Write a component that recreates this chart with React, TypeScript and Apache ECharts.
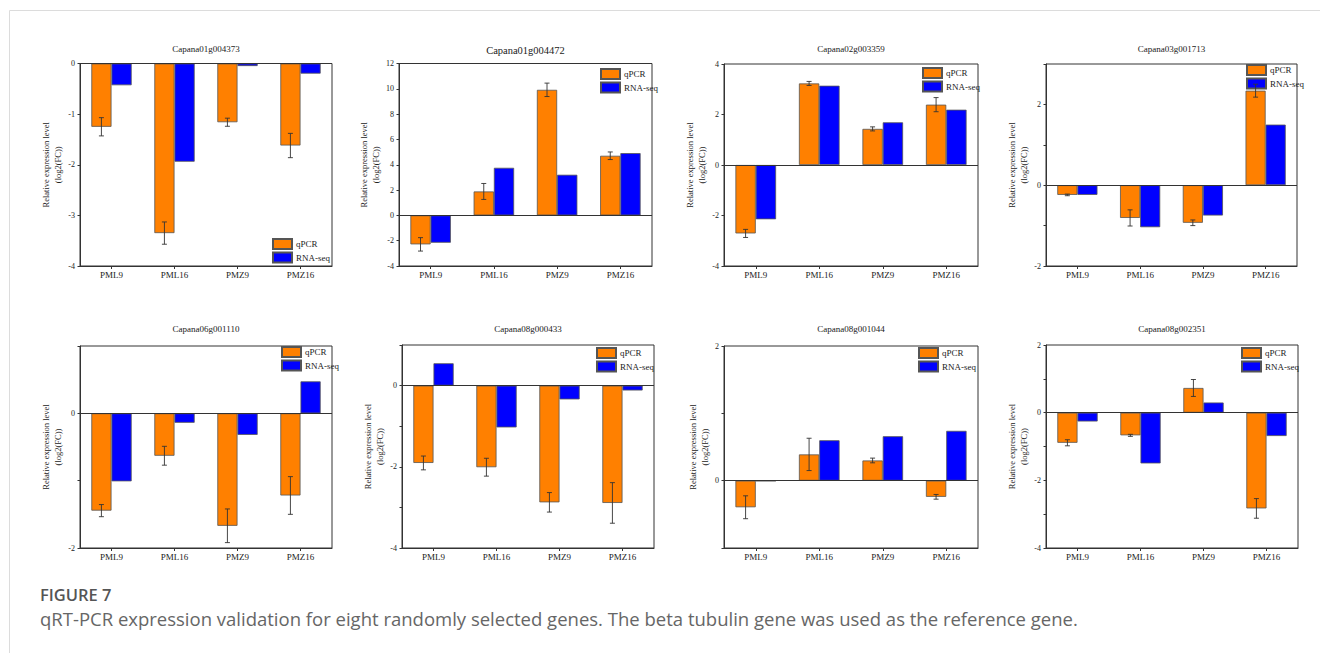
import React, { useEffect, useRef } from "react";
import * as echarts from "echarts";

// ---- data ----
const categories = ["PML9", "PML16", "PMZ9", "PMZ16"];
const genes = [
  "Capana01g004373",
  "Capana01g004472",
  "Capana02g003359",
  "Capana03g001713",
  "Capana06g001110",
  "Capana08g000433",
  "Capana08g001044",
  "Capana08g002351",
];

const qpcr1 = [-1.25, -3.35, -1.16, -1.62];
const err1 = [0.18, 0.22, 0.08, 0.24];
const rna1 = [-0.43, -1.94, -0.05, -0.2];

const qpcr2 = [-2.29, 1.89, 9.92, 4.71];
const err2 = [0.53, 0.63, 0.53, 0.3];
const rna2 = [-2.16, 3.76, 3.21, 4.92];

const qpcr3 = [-2.71, 3.23, 1.43, 2.39];
const err3 = [0.16, 0.08, 0.08, 0.28];
const rna3 = [-2.15, 3.14, 1.69, 2.19];

const qpcr4 = [-0.24, -0.81, -0.93, 2.34];
const err4 = [0.02, 0.2, 0.07, 0.16];
const rna4 = [-0.24, -1.04, -0.75, 1.5];

const qpcr5 = [-1.445, -0.63, -1.67, -1.22];
const err5 = [0.09, 0.14, 0.25, 0.28];
const rna5 = [-1.01, -0.14, -0.32, 0.475];

const qpcr6 = [-1.905, -2.01, -2.875, -2.89];
const err6 = [0.17, 0.22, 0.24, 0.5];
const rna6 = [0.55, -1.03, -0.34, -0.12];

const qpcr7 = [-0.395, 0.39, 0.3, -0.24];
const err7 = [0.17, 0.24, 0.035, 0.035];
const rna7 = [-0.006, 0.6, 0.66, 0.74];

const qpcr8 = [-0.89, -0.67, 0.73, -2.83];
const err8 = [0.09, 0.03, 0.25, 0.29];
const rna8 = [-0.26, -1.5, 0.3, -0.69];

const yMins = [-4, -4, -4, -2, -2, -4, -1, -4];
const yMaxs = [0, 12, 4, 3, 1, 1, 2, 2];
const yIntervals = [1, 2, 2, 1, 1, 1, 1, 1];
const labelEvenOnly = [false, false, false, true, true, true, true, true];

const qpcrAll = [qpcr1, qpcr2, qpcr3, qpcr4, qpcr5, qpcr6, qpcr7, qpcr8];
const errAll = [err1, err2, err3, err4, err5, err6, err7, err8];
const rnaAll = [rna1, rna2, rna3, rna4, rna5, rna6, rna7, rna8];

// ---- layout ----
const grids = [
  { left: 80, top: 63.5, width: 252, height: 202.5 },
  { left: 399, top: 63.5, width: 253, height: 202.5 },
  { left: 724, top: 64, width: 254, height: 202 },
  { left: 1046, top: 64, width: 251, height: 202 },
  { left: 80, top: 346, width: 252, height: 202 },
  { left: 402, top: 345, width: 252, height: 203 },
  { left: 724, top: 346, width: 254, height: 202 },
  { left: 1046, top: 345, width: 252, height: 203 },
];
const titleTops = [44, 45, 44, 44, 324, 324, 324, 324];
const titleSizes = [9, 10.5, 9, 9, 9, 9, 9, 9];
const legendPos = [
  [272, 238],
  [600, 68],
  [922, 67],
  [1246, 64],
  [281, 346],
  [596, 347],
  [918, 347],
  [1241, 347],
];

const BAR_GAP = 0.36;
const ORANGE = "#FF8000";
const BLUE = "#0000FF";
const FRAME = "#333333";
const SERIF = "'Liberation Serif', 'Times New Roman', serif";

function buildOption() {
  const grid: any[] = [];
  const xAxis: any[] = [];
  const yAxis: any[] = [];
  const series: any[] = [];
  const title: any[] = [];
  const legend: any[] = [];

  genes.forEach((g, i) => {
    const gr = grids[i];
    grid.push({
      ...gr,
      show: true,
      borderColor: FRAME,
      borderWidth: 1,
      backgroundColor: "transparent",
    });
    title.push({
      text: g,
      left: gr.left + gr.width / 2,
      top: titleTops[i],
      textAlign: "center",
      padding: 0,
      textStyle: { fontFamily: SERIF, fontSize: titleSizes[i], fontWeight: "normal", color: "#222" },
    });
    xAxis.push({
      type: "category",
      gridIndex: i,
      data: categories,
      axisLine: { show: true, onZero: false, lineStyle: { color: FRAME, width: 1 } },
      axisTick: { show: true, alignWithLabel: true, length: 3, lineStyle: { color: FRAME } },
      axisLabel: { fontFamily: SERIF, fontSize: 9, color: "#222", margin: 4 },
      splitLine: { show: false },
    });
    const even = labelEvenOnly[i];
    yAxis.push({
      type: "value",
      gridIndex: i,
      min: yMins[i],
      max: yMaxs[i],
      interval: yIntervals[i],
      name: "Relative expression level\n(log2(FC))",
      nameLocation: "middle",
      nameRotate: 90,
      nameGap: 10.5,
      nameTextStyle: { fontFamily: SERIF, fontSize: 8.5, color: "#222", lineHeight: 12 },
      axisLine: { show: true, lineStyle: { color: FRAME, width: 1 } },
      axisTick: { show: true, length: 2.5, lineStyle: { color: FRAME } },
      axisLabel: {
        fontFamily: SERIF,
        fontSize: 8,
        color: "#222",
        margin: 5,
        formatter: (v: number) => (even && Math.abs(v) % 2 === 1 ? "" : String(v)),
      },
      splitLine: { show: false },
    });
    series.push({
      type: "bar",
      name: "qPCR",
      xAxisIndex: i,
      yAxisIndex: i,
      data: qpcrAll[i],
      barGap: "0%",
      barCategoryGap: BAR_GAP * 100 + "%",
      itemStyle: { color: ORANGE, borderColor: "#555", borderWidth: 0.8 },
    });
    series.push({
      type: "bar",
      name: "RNA-seq",
      xAxisIndex: i,
      yAxisIndex: i,
      data: rnaAll[i],
      barGap: "0%",
      barCategoryGap: BAR_GAP * 100 + "%",
      itemStyle: { color: BLUE, borderColor: "#555", borderWidth: 0.8 },
      markLine: {
        silent: true,
        symbol: "none",
        label: { show: false },
        lineStyle: { color: FRAME, width: 1, type: "solid" },
        data: [{ yAxis: 0 }],
      },
    });
    series.push({
      type: "custom",
      name: "err" + i,
      xAxisIndex: i,
      yAxisIndex: i,
      z: 5,
      silent: true,
      encode: { x: 0, y: 1 },
      data: qpcrAll[i].map((v, k) => [k, v, errAll[i][k]]),
      renderItem: (params: any, api: any) => {
        const k = api.value(0);
        const v = api.value(1);
        const e = api.value(2);
        const c = api.coord([k, v]);
        const bw = api.size([1, 0])[0];
        const barW = (bw * (1 - BAR_GAP)) / 2;
        const cx = c[0] - barW / 2;
        const yt = api.coord([k, v + e])[1];
        const yb = api.coord([k, v - e])[1];
        const cap = 2.5;
        const st = { stroke: "#333", lineWidth: 0.9 };
        return {
          type: "group",
          children: [
            { type: "line", shape: { x1: cx, y1: yt, x2: cx, y2: yb }, style: st },
            { type: "line", shape: { x1: cx - cap, y1: yt, x2: cx + cap, y2: yt }, style: st },
            { type: "line", shape: { x1: cx - cap, y1: yb, x2: cx + cap, y2: yb }, style: st },
          ],
        };
      },
    });
    legend.push({
      data: ["qPCR", "RNA-seq"],
      left: legendPos[i][0],
      top: legendPos[i][1],
      orient: "vertical",
      padding: 0,
      itemGap: 1.5,
      itemWidth: 19,
      itemHeight: 10,
      icon: "rect",
      selectedMode: false,
      textStyle: { fontFamily: SERIF, fontSize: 9, color: "#222", padding: [0, 0, 0, -1] },
    });
  });

  return {
    animation: false,
    backgroundColor: "#ffffff",
    grid,
    xAxis,
    yAxis,
    series,
    title,
    legend,
    graphic: [
      { type: "line", shape: { x1: 9.5, y1: 10.5, x2: 1320, y2: 10.5 }, style: { stroke: "#dcdcdc", lineWidth: 1 } },
      { type: "line", shape: { x1: 9.5, y1: 10.5, x2: 9.5, y2: 653 }, style: { stroke: "#dcdcdc", lineWidth: 1 } },
      {
        type: "text",
        left: 40,
        top: 586,
        style: {
          text: "FIGURE 7",
          fontFamily: "'Open Sans', sans-serif",
          fontSize: 16.5,
          fontWeight: 600,
          fill: "#555555",
        },
      },
      {
        type: "text",
        left: 40,
        top: 609,
        style: {
          text: "qRT-PCR expression validation for eight randomly selected genes. The beta tubulin gene was used as the reference gene.",
          fontFamily: "'Open Sans', sans-serif",
          fontSize: 18.5,
          fill: "#666666",
        },
      },
    ],
  };
}

export default function App() {
  const ref = useRef<HTMLDivElement>(null);
  useEffect(() => {
    if (!ref.current) return;
    const chart = echarts.init(ref.current, undefined, { renderer: "svg" });
    chart.setOption(buildOption() as any);
    return () => chart.dispose();
  }, []);
  return (
    <div
      ref={ref}
      style={{ position: "fixed", left: 0, top: 0, width: 1320, height: 653, background: "#fff" }}
    />
  );
}
